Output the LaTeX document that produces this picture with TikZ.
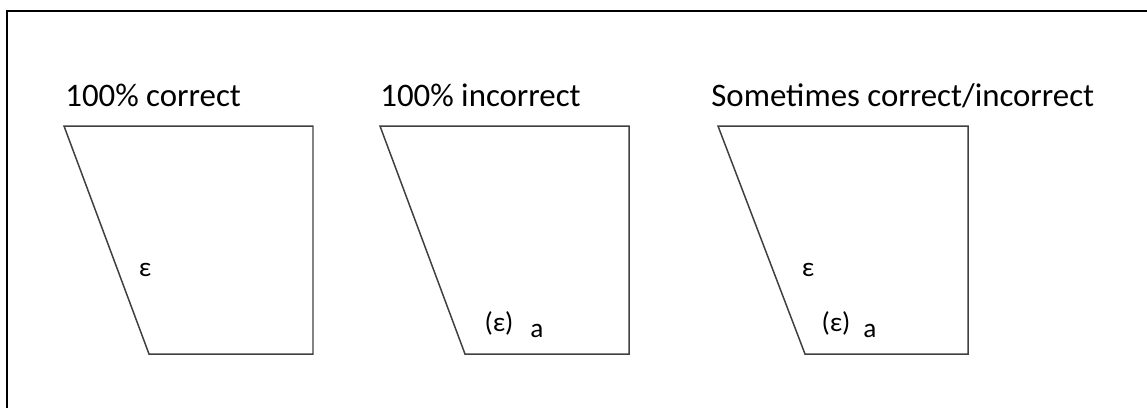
\documentclass[tikz,border=0pt]{standalone}
\usepackage{fontspec}
\setmainfont{Carlito}
\usepackage{tikz}
\usetikzlibrary{positioning}

\begin{document}
\begin{tikzpicture}[
  x=0.02cm, y=-0.02cm,
  title/.style={anchor=base west, inner sep=0pt, font=\fontsize{18.7}{22}\selectfont},
  lbl/.style={inner sep=0pt, font=\fontsize{15.5}{18}\selectfont},
  box/.style={draw=black!75, line width=0.85pt, line join=miter}
]
  \useasboundingbox (0,0) rectangle (1147,407);
  % frame
  \draw[line width=1.1pt] (7,420) -- (7,11) -- (1160,11);

  % titles
  \node[title] (t1) at (65,106)  {100\% correct};
  \node[title] (t2) at (380,106) {100\% incorrect};
  \node[title] (t3) at (711,106) {Sometimes correct/incorrect};

  % trapezoids
  \draw[box] (64,126) -- (313,126) -- (313,354) -- (149,354) -- cycle;
  \draw[box] (380,126) -- (629,126) -- (629,354) -- (465,354) -- cycle;
  \draw[box] (718,126) -- (968,126) -- (968,354) -- (805,354) -- cycle;

  % labels
  \node[lbl] (e1)  at (145,270) {ε};
  \node[lbl] (e2)  at (499,323) {(ε)};
  \node[lbl] (a2)  at (537,331) {a};
  \node[lbl] (e3)  at (808,270) {ε};
  \node[lbl] (e3b) at (836,323) {(ε)};
  \node[lbl] (a3)  at (870,331) {a};
\end{tikzpicture}
\end{document}
